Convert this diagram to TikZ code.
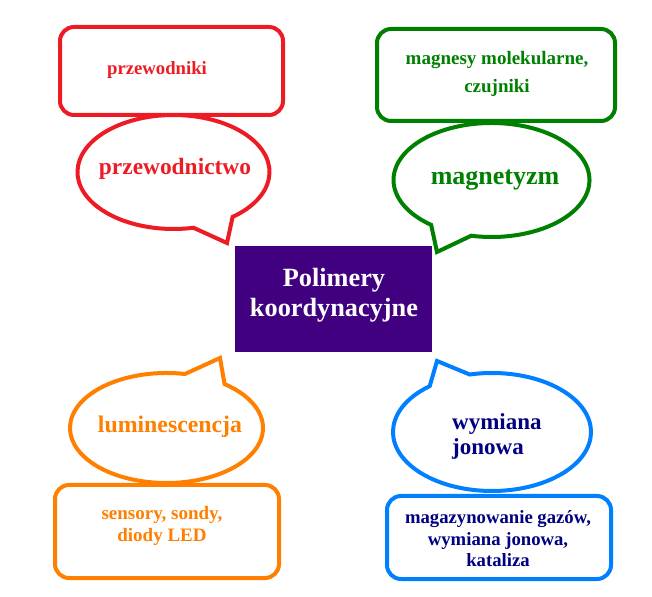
\documentclass[tikz,border=0pt]{standalone}
\usepackage{fontspec}
\setmainfont{Liberation Serif}
\definecolor{cred}{RGB}{237,28,36}
\definecolor{cgreen}{RGB}{0,128,0}
\definecolor{corange}{RGB}{255,127,0}
\definecolor{cblue}{RGB}{0,128,255}
\definecolor{cnavy}{RGB}{0,0,128}
\definecolor{cpurple}{RGB}{64,0,128}
\tikzset{
  bubble/.style={line width=4pt, line join=miter},
  boxline/.style={line width=4pt, rounded corners=14pt},
  txt/.style={inner sep=0pt, align=center, font=\bfseries},
}
\begin{document}
\begin{tikzpicture}[x=1pt,y=1pt]
\useasboundingbox (0,0) rectangle (652,596);
% rectangles
\draw[boxline, cred] (60,481) rectangle (283,569);
\draw[boxline, cgreen] (377,475) rectangle (615,567);
\draw[boxline, corange] (55,18) rectangle (279,111);
\draw[boxline, cblue] (387,17) rectangle (611,100);
% bubbles
\draw[bubble, cred, fill=white] ([shift={(173.5,424)}]-52:96 and 57) arc[start angle=-52, end angle=282, x radius=96, y radius=57] -- (227,353) -- cycle;
\draw[bubble, cgreen, fill=white] ([shift={(491.5,416)}]-102:98 and 57) arc[start angle=-102, end angle=232, x radius=98, y radius=57] -- (437,344) -- cycle;
\draw[bubble, corange, fill=white] ([shift={(166.5,168)}]79:96.5 and 55) arc[start angle=79, end angle=413, x radius=96.5, y radius=55] -- (220,238) -- cycle;
\draw[bubble, cblue, fill=white] ([shift={(492,164)}]129:99 and 59) arc[start angle=129, end angle=463, x radius=99, y radius=59] -- (437,235) -- cycle;
% centre box
\node[fill=cpurple, minimum width=197pt, minimum height=106pt, inner sep=0pt] (core) at (333.5,297) {};
\node[txt, text=white, font=\bfseries\fontsize{26.3}{30}\selectfont] (coretxt) at (334,301) {Polimery\\koordynacyjne};
% texts
\node[txt, text=cred, font=\bfseries\fontsize{18.7}{22}\selectfont] (t1) at (157,526) {przewodniki};
\node[txt, text=cred, font=\bfseries\fontsize{23.4}{28}\selectfont] (b1) at (175,427) {przewodnictwo};
\node[txt, text=cgreen, font=\bfseries\fontsize{19}{28}\selectfont] (t2) at (497,522) {magnesy molekularne,\\czujniki};
\node[txt, text=cgreen, font=\bfseries\fontsize{26}{30}\selectfont] (b2) at (495,416) {magnetyzm};
\node[txt, text=corange, font=\bfseries\fontsize{23.8}{28}\selectfont] (b3) at (170,169) {luminescencja};
\node[txt, text=corange, font=\bfseries\fontsize{19}{22}\selectfont] (t3) at (162,70) {sensory, sondy,\\diody LED};
\node[txt, text=cnavy, align=left, anchor=west, font=\bfseries\fontsize{23}{25}\selectfont] (b4) at (452,160) {wymiana\\jonowa};
\node[txt, text=cnavy, font=\bfseries\fontsize{18.7}{21.5}\selectfont] (t4) at (498,57) {magazynowanie gazów,\\wymiana jonowa,\\kataliza};
\end{tikzpicture}
\end{document}
